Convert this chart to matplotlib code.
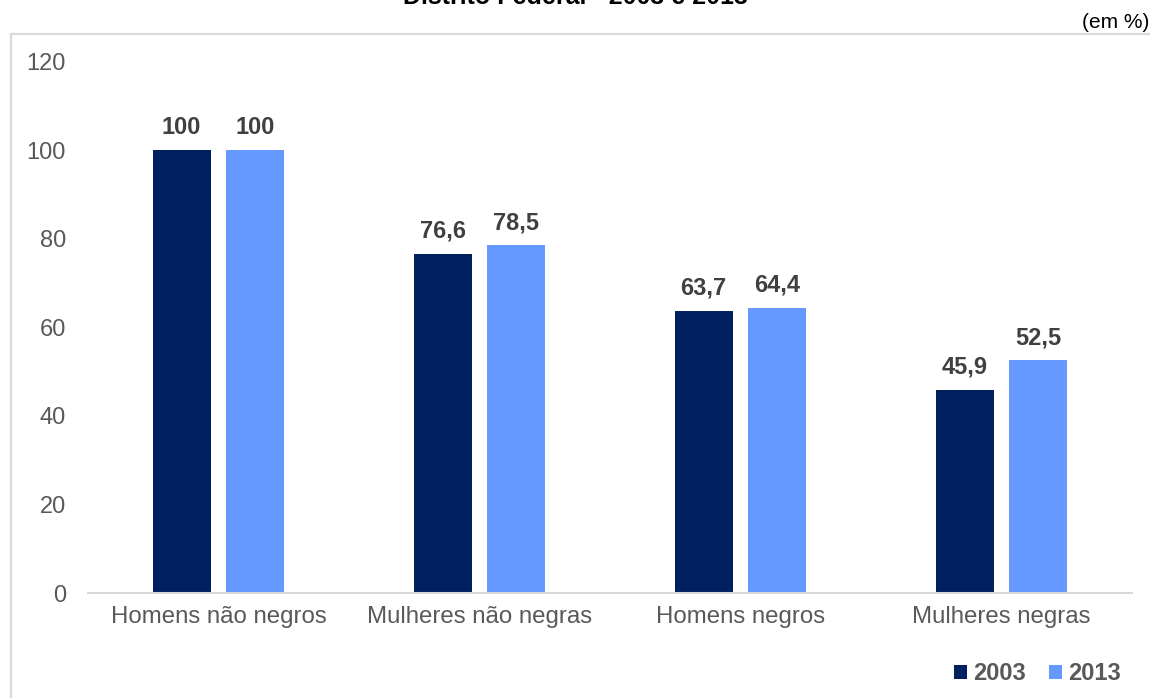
import matplotlib
matplotlib.use("Agg")
import matplotlib.pyplot as plt
import numpy as np
from matplotlib.patches import Rectangle

plt.rcParams['font.family'] = ['Liberation Sans', 'DejaVu Sans']

categories = ["Homens não negros", "Mulheres não negras", "Homens negros", "Mulheres negras"]
values_2003 = [100, 76.6, 63.7, 45.9]
values_2013 = [100, 78.5, 64.4, 52.5]
labels_2003 = ["100", "76,6", "63,7", "45,9"]
labels_2013 = ["100", "78,5", "64,4", "52,5"]
series_names = ["2003", "2013"]
yticks = [0, 20, 40, 60, 80, 100, 120]

c2003 = "#002060"
c2013 = "#6699FF"
W, H = 1150, 698
fig = plt.figure(figsize=(W/100, H/100), dpi=100)

# frame border
fig.patches.append(Rectangle((10.5/W, -0.05), 1.2, (H-34)/H + 0.05, transform=fig.transFigure,
                             fill=False, edgecolor="#d9d9d9", linewidth=1.6))

fig.text(575/W, 1 - 4.5/H, "Distrito Federal - 2003 e 2013", ha="center", va="baseline",
         fontsize=18, fontweight="bold", color="black")
fig.text(1149/W, 1 - 23/H, "(em %)", ha="right", va="center", fontsize=15, color="black")

ax = fig.add_axes([88/W, 1 - 593/H, (1132-88)/W, (593-61.5)/H])
x = np.arange(len(categories))
bw = 0.222
gap = 0.061
off = (bw + gap) / 2
b1 = ax.bar(x - off, values_2003, bw, color=c2003, label=series_names[0])
b2 = ax.bar(x + off, values_2013, bw, color=c2013, label=series_names[1])
for xs, vals, labs in [(x - off, values_2003, labels_2003), (x + off, values_2013, labels_2013)]:
    for xi, v, l in zip(xs, vals, labs):
        ax.annotate(l, (xi, v), xytext=(0, 8), textcoords="offset points",
                    ha="center", va="bottom", fontsize=17, fontweight="bold", color="#404040")

ax.set_xlim(-0.5, len(categories) - 0.5)
ax.set_ylim(0, 120)
ax.set_yticks(yticks)
ax.set_yticklabels([str(t) for t in yticks], fontsize=17, color="#595959")
ax.set_xticks(x)
ax.set_xticklabels(categories, fontsize=17.3, color="#595959")
ax.tick_params(axis="both", length=0)
ax.tick_params(axis="y", pad=16)
ax.tick_params(axis="x", pad=9)
for s in ["top", "right", "left"]:
    ax.spines[s].set_visible(False)
ax.spines["bottom"].set_color("#d9d9d9")
ax.spines["bottom"].set_linewidth(1.5)

leg = fig.legend(handles=[b1, b2], labels=series_names, loc="center right",
                 bbox_to_anchor=(1121/W, 1 - 674/H), ncol=2, frameon=False,
                 prop={"weight": "bold", "size": 17}, handlelength=0.55, handleheight=0.55,
                 handletextpad=0.25, columnspacing=1.0, borderaxespad=0, borderpad=0)
for t in leg.get_texts():
    t.set_color("#595959")

fig.savefig("out.png", dpi=100)
